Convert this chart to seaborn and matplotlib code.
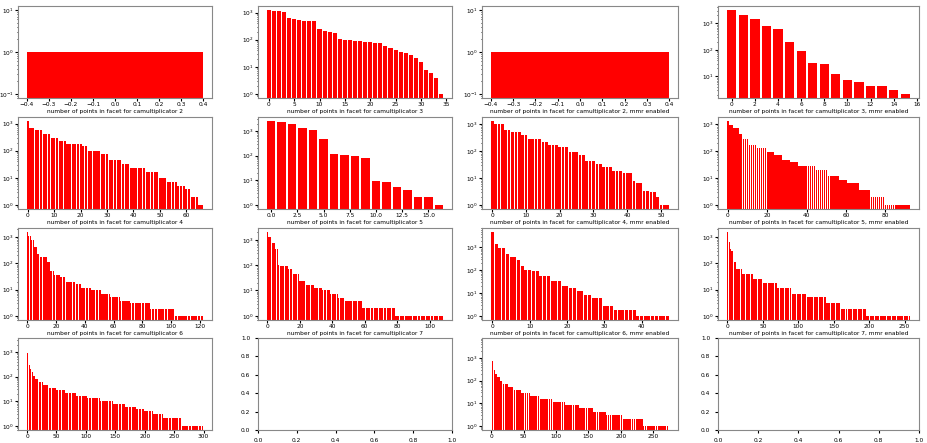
import matplotlib
matplotlib.use("Agg")
import matplotlib.pyplot as plt
import numpy as np
import pandas as pd
import seaborn as sns

# facet point counts, sorted descending
cm2 = [1]
cm3 = [1230, 1170, 1150, 1070, 650, 580, 525, 510, 510, 495, 245, 218, 195, 180,
       106, 100, 95, 92, 90, 85, 80, 76, 76, 57, 50, 42, 36, 33, 27, 21, 15, 7.4,
       6, 4, 1]
cm2_mmr = [1]
cm3_mmr = [3160, 2170, 1450, 800, 615, 205, 92, 32, 29, 12, 7.3, 6.1, 4.2, 4.2,
           3.2, 2.2]
cm5 = [2500, 2300, 2000, 1280, 1100, 490, 117, 107, 94, 83, 9.1, 8.6, 5.1, 4, 2,
       2, 1]

# longer series stored as (level, how many facets share it)
cm4_lvl = [1230, 690, 560, 400, 300, 220, 180, 150, 97, 73, 45, 32, 22, 17, 10, 7,
           5, 3.8, 1.9, 1]
cm4_run = [1, 2, 3, 3, 3, 3, 6, 2, 5, 3, 5, 3, 6, 5, 3, 4, 3, 2, 3, 2]

cm4_mmr_lvl = [1290, 1020, 630, 530, 400, 290, 215, 165, 140, 95, 70, 43, 32, 26,
               18, 15, 7.7, 6.7, 3.3, 2.9, 1.9, 1]
cm4_mmr_run = [1, 3, 2, 3, 2, 4, 2, 3, 3, 3, 2, 3, 2, 3, 3, 3, 1, 2, 2, 2, 1, 3]

cm5_mmr_lvl = [1290, 970, 740, 420, 275, 175, 128, 89, 74, 47, 38, 27, 20, 12, 8.2,
               6.6, 3.7, 2, 1]
cm5_mmr_run = [1, 2, 3, 2, 3, 4, 5, 4, 4, 4, 4, 9, 6, 6, 4, 6, 6, 7, 13]

cm6_lvl = [1550, 1080, 750, 440, 230, 175, 112, 52, 36, 29, 20, 17, 11.5, 10, 7, 5,
           3.6, 3, 1.8, 1]
cm6_run = [1, 2, 2, 2, 2, 5, 2, 3, 4, 4, 7, 4, 7, 7, 6, 7, 7, 14, 17, 20]

cm7_lvl = [2000, 1300, 780, 450, 100, 93, 73, 43, 23, 17, 13, 10, 7.3, 5, 3.8, 2, 1]
cm7_run = [1, 2, 2, 2, 1, 5, 3, 4, 4, 5, 5, 5, 5, 4, 11, 20, 30]

cm6_mmr_lvl = [4700, 1450, 950, 530, 380, 270, 160, 100, 90, 58, 33, 21, 16, 12,
               8.5, 6, 2.8, 1.85, 1]
cm6_mmr_run = [1, 1, 2, 1, 2, 1, 1, 2, 2, 3, 3, 2, 2, 2, 2, 3, 3, 6, 9]

cm7_mmr_lvl = [1550, 900, 750, 650, 360, 290, 112, 62, 40, 25, 18, 11.5, 7, 5, 3,
               1.8, 1]
cm7_mmr_run = [1, 1, 1, 1, 2, 2, 5, 8, 15, 15, 20, 20, 20, 28, 22, 35, 62]

cm8_lvl = [2500, 900, 600, 400, 300, 200, 150, 110, 80, 60, 45, 35, 28, 22, 17, 13,
           10, 8, 6, 5, 4, 3, 2, 1]
cm8_run = [1, 1, 1, 1, 1, 2, 3, 4, 6, 8, 10, 12, 15, 18, 20, 22, 22, 20, 18, 15,
           14, 18, 30, 38]

cm8_mmr_lvl = [5000, 1200, 700, 450, 300, 200, 140, 100, 70, 50, 38, 28, 20, 15, 11,
               8, 6, 4, 3, 2, 1]
cm8_mmr_run = [1, 1, 1, 2, 2, 3, 4, 5, 7, 9, 11, 14, 16, 18, 20, 22, 22, 20, 25,
               32, 40]

base = "number of points in facet for camultiplicator "
# bottom row labels fall outside the cropped picture, so they are left out
panels = [
    (base + "2", cm2),
    (base + "3", cm3),
    (base + "2, mmr enabled", cm2_mmr),
    (base + "3, mmr enabled", cm3_mmr),
    (base + "4", np.repeat(cm4_lvl, cm4_run)),
    (base + "5", cm5),
    (base + "4, mmr enabled", np.repeat(cm4_mmr_lvl, cm4_mmr_run)),
    (base + "5, mmr enabled", np.repeat(cm5_mmr_lvl, cm5_mmr_run)),
    (base + "6", np.repeat(cm6_lvl, cm6_run)),
    (base + "7", np.repeat(cm7_lvl, cm7_run)),
    (base + "6, mmr enabled", np.repeat(cm6_mmr_lvl, cm6_mmr_run)),
    (base + "7, mmr enabled", np.repeat(cm7_mmr_lvl, cm7_mmr_run)),
    ("", np.repeat(cm8_lvl, cm8_run)),
    None,
    ("", np.repeat(cm8_mmr_lvl, cm8_mmr_run)),
    None,
]

plt.rcParams["font.size"] = 4.2
plt.rcParams["axes.edgecolor"] = "#888888"
plt.rcParams["xtick.major.size"] = 2
plt.rcParams["ytick.major.size"] = 2
plt.rcParams["ytick.minor.size"] = 1

W, H = 927, 443
fig = plt.figure(figsize=(W / 100, H / 100), dpi=100)
lefts = [18, 258, 482, 718]
rights = [212, 452, 678, 919]
tops = [6, 117, 228, 338]
h = 92

for i, p in enumerate(panels):
    r, c = divmod(i, 4)
    ax = fig.add_axes([lefts[c] / W, 1 - (tops[r] + h) / H,
                       (rights[c] - lefts[c]) / W, h / H])
    if p is None:
        continue
    label, vals = p
    df = pd.DataFrame({"facet": np.arange(len(vals)), "count": vals})
    sns.barplot(data=df, x="facet", y="count", native_scale=True,
                color="red", saturation=1, errorbar=None, ax=ax)
    ax.set_yscale("log")
    ax.relim()
    ax.autoscale_view()
    ax.set_xlabel(label, labelpad=1)
    ax.set_ylabel("")
    ax.tick_params(pad=1)

fig.savefig("out.png", dpi=100)
